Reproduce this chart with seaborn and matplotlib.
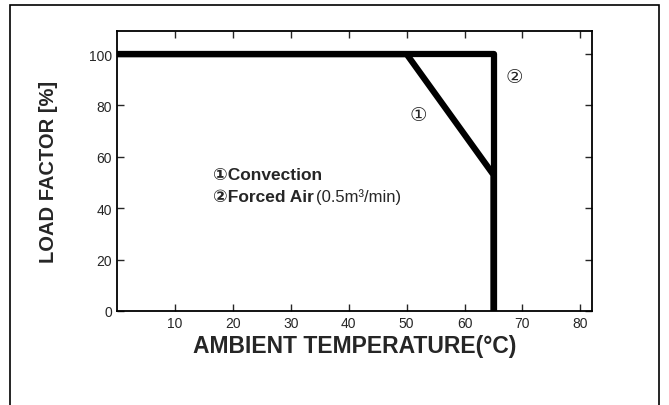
import pandas as pd
import matplotlib.pyplot as plt
import seaborn as sns
from matplotlib.patches import Rectangle

# Derating curves (ambient temperature in °C, load factor in %)
conv_temp = [0, 50, 65, 65]
conv_load = [100, 100, 53, 0]
forced_temp = [0, 65, 65]
forced_load = [100, 100, 0]

x_ticks = [10, 20, 30, 40, 50, 60, 70, 80]
y_ticks = [0, 20, 40, 60, 80, 100]

sns.set_style('white')
plt.rcParams['font.family'] = ['Liberation Sans', 'DejaVu Sans']

df = pd.concat([
    pd.DataFrame({'temp': conv_temp, 'load': conv_load, 'curve': 'conv'}),
    pd.DataFrame({'temp': forced_temp, 'load': forced_load, 'curve': 'forced'}),
])

fig = plt.figure(figsize=(6.69, 4.06), dpi=100)
ax = fig.add_axes([117 / 669, 1 - 312 / 406, 475 / 669, 280 / 406])

for name, grp in df.groupby('curve'):
    sns.lineplot(data=grp, x='temp', y='load', sort=False, estimator=None,
                 color='black', linewidth=4.5, ax=ax)

ax.set_xlim(0, 82)
ax.set_ylim(0, 109)
ax.set_xticks(x_ticks)
ax.set_yticks(y_ticks)
ax.set_xticklabels([str(t) for t in x_ticks], fontsize=10)
ax.set_yticklabels([str(t) for t in y_ticks], fontsize=10)
ax.tick_params(axis='x', direction='in', top=True, bottom=True, length=5, width=1)
ax.tick_params(axis='y', direction='in', left=True, right=True, length=5, width=1)
for s in ax.spines.values():
    s.set_color('black')
    s.set_linewidth(1.3)

ax.set_xlabel('AMBIENT TEMPERATURE(°C)', fontsize=16.5, fontweight='heavy', labelpad=3)
ax.set_ylabel('LOAD FACTOR [%]', fontsize=14.5, fontweight='heavy', labelpad=22)

ax.text(52, 76, '①', fontsize=14, ha='center', va='center')
ax.text(68.5, 91, '②', fontsize=14, ha='center', va='center')
ax.text(16.5, 53, '①Convection', fontsize=12.5, fontweight='semibold', ha='left', va='center')
t2 = ax.text(16.5, 44.5, '②Forced Air', fontsize=12.5, fontweight='semibold', ha='left', va='center')
ax.annotate('(0.5m³/min)', xy=(1, 0), xycoords=t2, xytext=(2, 0),
            textcoords='offset points', fontsize=12, ha='left', va='bottom')

# outer frame of the datasheet figure
fig.patches.append(Rectangle((10 / 669, -0.05), 649 / 669, 1.05 - 6 / 406,
                             transform=fig.transFigure, fill=False,
                             edgecolor='black', linewidth=1.2))

fig.savefig('out.png', dpi=100)
